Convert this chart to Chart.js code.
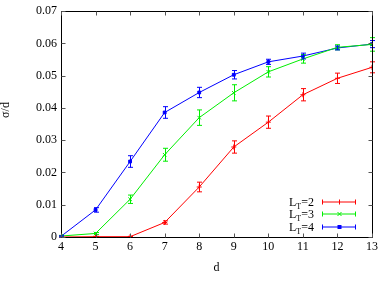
<!DOCTYPE html>
<html><head><meta charset="utf-8">
<script src="https://cdn.jsdelivr.net/npm/chart.js@4/dist/chart.umd.min.js"></script>
<style>html,body{margin:0;padding:0;background:#fff}#wrap{width:390px;height:289px}</style>
</head><body><div id="wrap"><canvas id="c" width="390" height="289"></canvas></div>
<script>
const dValues = [4,5,6,7,8,9,10,11,12,13];
const lt2 = [0, 0.0001, 0.0001, 0.0045, 0.0155, 0.0279, 0.0356, 0.0441, 0.0492, 0.0526];
const lt2err = [0.0001,0.0001,0.0001,0.0005,0.0015,0.0019,0.0019,0.0019,0.0016,0.0017];
const lt3 = [0.0003, 0.0011, 0.0117, 0.0255, 0.0370, 0.0447, 0.0512, 0.0552, 0.0588, 0.0597];
const lt3err = [0.0002,0.0003,0.0013,0.0020,0.0024,0.0025,0.0016,0.0013,0.0008,0.0021];
const lt4 = [0.0002, 0.0084, 0.0234, 0.0386, 0.0448, 0.0503, 0.0543, 0.0561, 0.0586, 0.0598];
const lt4err = [0.0002,0.0007,0.0018,0.0018,0.0016,0.0013,0.0008,0.0009,0.0006,0.0011];
const seriesNames = ['2','3','4'];
const FONT = '"Liberation Serif", "DejaVu Serif", serif';

function pts(vals){ return dValues.map((d,i)=>({x:d,y:vals[i]})); }

const errPlugin = {
  id:'err',
  afterDatasetsDraw(chart){
    const ctx = chart.ctx, xs = chart.scales.x, ys = chart.scales.y;
    chart.data.datasets.forEach(ds=>{
      ctx.save(); ctx.strokeStyle = ds.borderColor; ctx.lineWidth = 1;
      ds.data.forEach((p,i)=>{
        const e = ds.err[i];
        const x = Math.round(xs.getPixelForValue(p.x))+0.5;
        const y1 = ys.getPixelForValue(p.y - e), y2 = ys.getPixelForValue(p.y + e);
        ctx.beginPath();
        ctx.moveTo(x,y1); ctx.lineTo(x,y2);
        ctx.moveTo(x-2.5,y1); ctx.lineTo(x+2.5,y1);
        ctx.moveTo(x-2.5,y2); ctx.lineTo(x+2.5,y2);
        ctx.stroke();
      });
      ctx.restore();
    });
  }
};

const framePlugin = {
  id:'frame',
  afterDraw(chart){
    const ctx = chart.ctx, a = chart.chartArea, xs = chart.scales.x, ys = chart.scales.y;
    ctx.save();
    ctx.strokeStyle = '#000'; ctx.lineWidth = 1;
    const L = Math.round(a.left)+0.5, R = Math.round(a.right)+0.5, T = Math.round(a.top)+0.5, B = Math.round(a.bottom)+0.5;
    ctx.strokeRect(L, T, R-L, B-T);
    ctx.strokeStyle = '#555';
    ctx.beginPath();
    xs.ticks.forEach(t=>{
      const x = Math.round(xs.getPixelForValue(t.value))+0.5;
      ctx.moveTo(x,B); ctx.lineTo(x,B-4);
      ctx.moveTo(x,T); ctx.lineTo(x,T+4);
    });
    ys.ticks.forEach(t=>{
      const y = Math.round(ys.getPixelForValue(t.value))+0.5;
      ctx.moveTo(L,y); ctx.lineTo(L+4,y);
      ctx.moveTo(R,y); ctx.lineTo(R-4,y);
    });
    ctx.stroke();
    ctx.restore();
    // y title
    ctx.save();
    ctx.fillStyle = '#000';
    ctx.font = '12px ' + FONT;
    ctx.translate(6, 110);
    ctx.rotate(-Math.PI/2);
    ctx.textAlign='center'; ctx.textBaseline='middle';
    ctx.fillText('σ/d',0,0);
    ctx.restore();
    // legend
    const rowsY = [202, 214, 227];
    chart.data.datasets.forEach((ds,i)=>{
      ctx.save();
      const y = rowsY[i];
      const textRight = 314;
      ctx.textBaseline='alphabetic'; ctx.fillStyle='#000'; ctx.textAlign='left';
      ctx.font = '12px ' + FONT;
      const rest = '=' + seriesNames[i];
      const wRest = ctx.measureText(rest).width;
      const wL = ctx.measureText('L').width;
      ctx.font = '8px ' + FONT;
      const wSub = ctx.measureText('T').width;
      const x0 = textRight - wRest - wSub - wL;
      ctx.font = '12px ' + FONT;
      ctx.fillText('L', x0, y+4);
      ctx.font = '8px ' + FONT;
      ctx.fillText('T', x0+wL, y+7);
      ctx.font = '12px ' + FONT;
      ctx.fillText(rest, x0+wL+wSub, y+4);
      ctx.lineWidth = 1;
      ctx.strokeStyle = ds.borderColor;
      ctx.beginPath();
      ctx.moveTo(322,y); ctx.lineTo(356,y);
      ctx.moveTo(322.5,y-2.5); ctx.lineTo(322.5,y+2.5);
      ctx.moveTo(355.5,y-2.5); ctx.lineTo(355.5,y+2.5);
      ctx.stroke();
      const mx = 339.5;
      ctx.fillStyle = ds.borderColor;
      ctx.beginPath();
      if (ds.pointStyle==='rect') { ctx.fillRect(mx-2,y-2,4,4); }
      else if (ds.pointStyle==='crossRot') { ctx.moveTo(mx-2,y-2); ctx.lineTo(mx+2,y+2); ctx.moveTo(mx-2,y+2); ctx.lineTo(mx+2,y-2); ctx.stroke(); }
      else { ctx.moveTo(mx,y-2.5); ctx.lineTo(mx,y+2.5); ctx.stroke(); }
      ctx.restore();
    });
  }
};

new Chart(document.getElementById('c'), {
  type:'line',
  data:{
    datasets:[
      {label:'LT=2', data:pts(lt2), err:lt2err, borderColor:'#ff0000', backgroundColor:'#ff0000', borderWidth:1, pointStyle:'cross', pointRadius:2.5, pointBorderWidth:1, tension:0},
      {label:'LT=3', data:pts(lt3), err:lt3err, borderColor:'#00ee00', backgroundColor:'#00ee00', borderWidth:1, pointStyle:'crossRot', pointRadius:2.5, pointBorderWidth:1, tension:0},
      {label:'LT=4', data:pts(lt4), err:lt4err, borderColor:'#0000ff', backgroundColor:'#0000ff', borderWidth:1, pointStyle:'rect', pointRadius:2, pointBorderWidth:1, tension:0}
    ]
  },
  options:{
    responsive:false, animation:false,
    layout:{padding:{top:4,right:18,left:0,bottom:0}},
    plugins:{legend:{display:false}, tooltip:{enabled:false}},
    scales:{
      x:{type:'linear', min:4, max:13,
        ticks:{stepSize:1, color:'#000', font:{family:FONT,size:12}, padding:3},
        grid:{display:false, drawTicks:false},
        border:{display:false},
        title:{display:true, text:'d', color:'#000', font:{family:FONT,size:12}, padding:{top:4,bottom:14}},
        afterFit(s){ s.height = 52; }
      },
      y:{min:0, max:0.07,
        ticks:{stepSize:0.01, color:'#000', font:{family:FONT,size:12}, padding:4,
          callback:v=>{ const r=Math.round(v*100)/100; return r===0?'0':r.toFixed(2);} },
        grid:{display:false, drawTicks:false},
        border:{display:false},
        afterFit(s){ s.width = 61; }
      }
    }
  },
  plugins:[errPlugin, framePlugin]
});
</script></body></html>
